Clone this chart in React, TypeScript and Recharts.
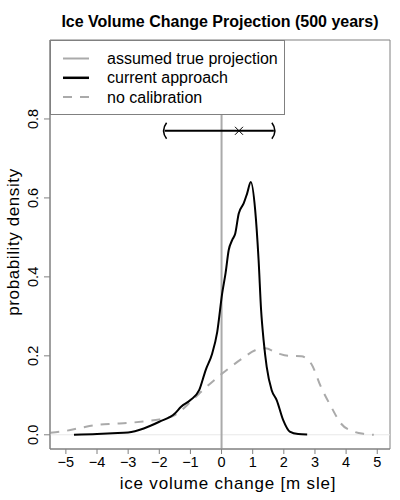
import {
  ComposedChart,
  Line,
  Scatter,
  XAxis,
  YAxis,
  ReferenceLine,
  ReferenceArea,
  Customized,
} from 'recharts';

// density of the current approach
const currentX = [-4.74, -4.0, -3.5, -3.0, -2.5, -2.0, -1.5, -1.3, -1.0, -0.72, -0.51, -0.3, -0.14, 0.02, 0.13, 0.23, 0.34, 0.44, 0.55, 0.71, 0.82, 0.94, 1.08, 1.19, 1.27, 1.35, 1.45, 1.61, 1.77, 1.98, 2.19, 2.46, 2.75];
const currentY = [0.0, 0.002, 0.004, 0.006, 0.016, 0.033, 0.054, 0.071, 0.088, 0.113, 0.164, 0.206, 0.26, 0.358, 0.41, 0.468, 0.493, 0.51, 0.56, 0.586, 0.611, 0.64, 0.569, 0.442, 0.316, 0.24, 0.172, 0.113, 0.088, 0.037, 0.008, 0.002, 0.001];

// density without calibration
const noCalX = [-5.5, -5.0, -4.5, -4.0, -3.5, -3.0, -2.5, -2.0, -1.5, -1.0, -0.6, 0.02, 0.66, 1.08, 1.4, 1.82, 2.14, 2.56, 2.88, 3.2, 3.52, 3.83, 4.25, 4.6, 4.89];
const noCalY = [0.005, 0.01, 0.018, 0.025, 0.028, 0.03, 0.034, 0.039, 0.05, 0.083, 0.113, 0.155, 0.193, 0.214, 0.219, 0.206, 0.2, 0.199, 0.18, 0.12, 0.071, 0.029, 0.008, 0.002, 0.0];

// interval of the current approach
const intervalX = [-1.83, 1.68];
const intervalMedian = 0.56;
const intervalLevel = 0.77;

const trueValue = 0;

const xTicks = [-5, -4, -3, -2, -1, 0, 1, 2, 3, 4, 5];
const yTicks = [0, 0.2, 0.4, 0.6, 0.8];
const X_DOMAIN = [-5.51, 5.41];
const Y_DOMAIN = [-0.036, 1.0];

const legendLabels = ['assumed true projection', 'current approach', 'no calibration'];

const FONT = '"Liberation Sans", Arial, Helvetica, sans-serif';
const GRAY = '#aaaaaa';
const BOX = '#808080';

const currentData = currentX.map((x, i) => ({ x, y: currentY[i] }));
const noCalData = noCalX.map((x, i) => ({ x, y: noCalY[i] }));
const intervalData = intervalX.map((x) => ({ x, y: intervalLevel }));
const medianData = [{ x: intervalMedian, y: intervalLevel }];

const fmtX = (v: number) => (v < 0 ? `\u2212${Math.abs(v)}` : `${v}`);

const XTick = (props: any) => {
  const { x, y, payload } = props;
  return (
    <text x={x} y={y + 11} textAnchor="middle" fontSize={14.5} fontFamily={FONT} fill="#000">
      {fmtX(payload.value)}
    </text>
  );
};

const YTick = (props: any) => {
  const { x, y, payload } = props;
  const tx = x - 4;
  return (
    <text
      x={tx}
      y={y}
      transform={`rotate(-90, ${tx}, ${y})`}
      textAnchor="middle"
      fontSize={14.5}
      fontFamily={FONT}
      fill="#000"
    >
      {payload.value.toFixed(1)}
    </text>
  );
};

const Paren = (props: any) => {
  const { cx, cy, payload } = props;
  const left = payload.x < intervalMedian;
  const d = left
    ? `M${cx + 2},${cy - 8} Q${cx - 4},${cy} ${cx + 2},${cy + 8}`
    : `M${cx - 2},${cy - 8} Q${cx + 4},${cy} ${cx - 2},${cy + 8}`;
  return <path d={d} stroke="#000" strokeWidth={1.5} fill="none" />;
};

const Cross = (props: any) => {
  const { cx, cy } = props;
  return (
    <g stroke="#000" strokeWidth={1}>
      <line x1={cx - 4} y1={cy - 4} x2={cx + 4} y2={cy + 4} />
      <line x1={cx - 4} y1={cy + 4} x2={cx + 4} y2={cy - 4} />
    </g>
  );
};

const Texts = () => (
  <g fontFamily={FONT}>
    <text x={220} y={27} textAnchor="middle" fontSize={16} fontWeight="bold" fill="#000">
      Ice Volume Change Projection (500 years)
    </text>
    <text x={228} y={489} textAnchor="middle" fontSize={17} letterSpacing={0.8} fill="#000">
      ice volume change [m sle]
    </text>
    <text
      x={19}
      y={242}
      transform="rotate(-90, 19, 242)"
      textAnchor="middle"
      fontSize={17}
      letterSpacing={0.6}
      fill="#000"
    >
      probability density
    </text>
  </g>
);

// legend sits above the svg so it hides the reference line like the original
const LegendBox = () => {
  const styles = [
    { stroke: GRAY, width: 2, dash: undefined },
    { stroke: '#000', width: 2.5, dash: undefined },
    { stroke: GRAY, width: 2, dash: '9 8' },
  ];
  return (
    <svg width={235} height={75} style={{ position: 'absolute', left: 50, top: 40 }}>
      <rect x={0.5} y={0.5} width={234} height={74} fill="#fff" stroke={BOX} strokeWidth={1} />
      {legendLabels.map((label, i) => {
        const cy = 18.5 + i * 19.3;
        const s = styles[i];
        return (
          <g key={label}>
            <line x1={13} y1={cy} x2={39} y2={cy} stroke={s.stroke} strokeWidth={s.width} strokeDasharray={s.dash} />
            <text x={57} y={cy + 5.5} fontSize={16} fontFamily={FONT} fill="#000">
              {label}
            </text>
          </g>
        );
      })}
    </svg>
  );
};

export default function App() {
  return (
    <div style={{ position: 'absolute', left: 0, top: 0, width: 400, height: 500, background: '#fff' }}>
      <ComposedChart width={400} height={500} margin={{ top: 40, right: 10, bottom: 0, left: 0 }}>
        <XAxis
          type="number"
          dataKey="x"
          domain={X_DOMAIN}
          allowDataOverflow
          ticks={xTicks}
          tick={<XTick />}
          tickSize={5}
          stroke={BOX}
          height={51}
        />
        <YAxis
          type="number"
          dataKey="y"
          domain={Y_DOMAIN}
          allowDataOverflow
          ticks={yTicks}
          tick={<YTick />}
          tickSize={6}
          stroke={BOX}
          width={50}
        />
        <ReferenceArea
          x1={X_DOMAIN[0]}
          x2={X_DOMAIN[1]}
          y1={Y_DOMAIN[0]}
          y2={Y_DOMAIN[1]}
          fill="none"
          stroke={BOX}
          strokeWidth={1}
          ifOverflow="visible"
        />
        <ReferenceLine y={0} stroke="#e8e8e8" strokeWidth={1} />
        <ReferenceLine x={trueValue} stroke={GRAY} strokeWidth={2} />
        <Line
          data={noCalData}
          dataKey="y"
          type="monotone"
          stroke={GRAY}
          strokeWidth={2}
          strokeDasharray="9 8"
          dot={false}
          isAnimationActive={false}
        />
        <Line
          data={currentData}
          dataKey="y"
          type="monotone"
          stroke="#000"
          strokeWidth={2}
          dot={false}
          isAnimationActive={false}
        />
        <Scatter
          data={intervalData}
          dataKey="y"
          line={{ stroke: '#000', strokeWidth: 2 }}
          shape={<Paren />}
          isAnimationActive={false}
        />
        <Scatter data={medianData} dataKey="y" shape={<Cross />} isAnimationActive={false} />
        <Customized component={Texts} />
      </ComposedChart>
      <LegendBox />
    </div>
  );
}
